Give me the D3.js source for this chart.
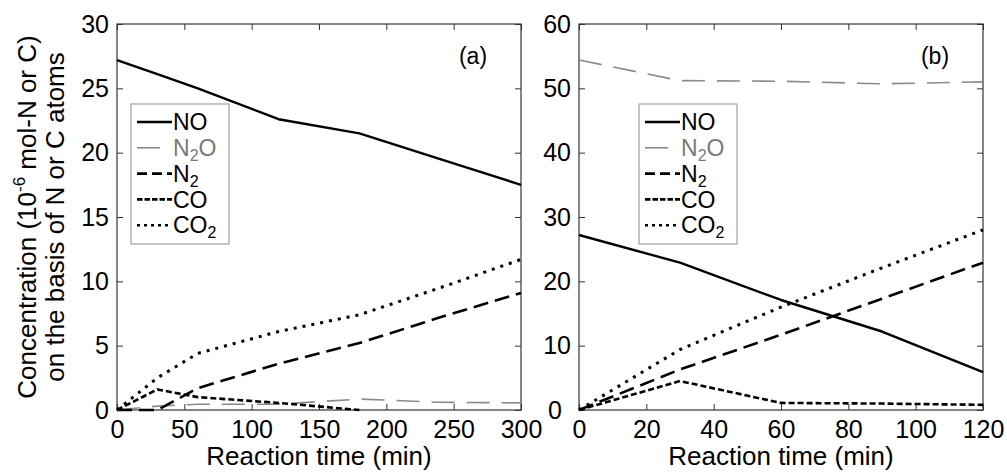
<!DOCTYPE html>
<html>
<head>
<meta charset="utf-8">
<script src="https://cdn.jsdelivr.net/npm/d3@7"></script>
<style>
  body { margin: 0; background: #fff; }
  svg { display: block; font-family: "Liberation Sans", Arial, Helvetica, sans-serif; }
</style>
</head>
<body>
<svg id="chart" width="1007" height="475"></svg>
<script>
// panel (a)
const timeA = [0, 30, 60, 120, 180, 240, 300];
const noA   = [27.2, 26.1, 25.0, 22.6, 21.5, 19.5, 17.5];
const n2oA  = [0, 0.3, 0.45, 0.45, 0.85, 0.6, 0.55];
const n2A   = [0, 0, 1.7, 3.6, 5.2, 7.2, 9.1];
const coA   = [0, 1.6, 1.0, 0.55, 0, null, null];
const co2A  = [0, 2.5, 4.4, 6.1, 7.4, 9.5, 11.7];

// panel (b)
const timeB = [0, 30, 60, 90, 120];
const noB   = [27.2, 22.9, 17.1, 12.2, 5.9];
const n2oB  = [54.4, 51.2, 51.1, 50.7, 51.0];
const n2B   = [0, 6.3, 11.7, 17.3, 22.9];
const coB   = [0, 4.5, 1.1, 1.0, 0.8];
const co2B  = [0, 9.4, 16.0, 22.1, 28.0];

const ticksXA = [0, 50, 100, 150, 200, 250, 300];
const ticksYA = [0, 5, 10, 15, 20, 25, 30];
const ticksXB = [0, 20, 40, 60, 80, 100, 120];
const ticksYB = [0, 10, 20, 30, 40, 50, 60];

const seriesNames = ['NO', 'N2O', 'N2', 'CO', 'CO2'];

// line styles per series (plot dash, legend dash)
const styles = {
  NO:  { color: '#000', width: 2.4, dash: null,    legDash: null },
  N2O: { color: '#8a8a8a', width: 1.6, dash: '23,12', legDash: '23,12' },
  N2:  { color: '#000', width: 2.6, dash: '15,7',  legDash: '10,5' },
  CO:  { color: '#000', width: 2.6, dash: '6,3',   legDash: '5.5,2' },
  CO2: { color: '#000', width: 3,   dash: '3,6',   legDash: '3,4' }
};

const svg = d3.select('#chart');
const plotTop = 24, plotBottom = 410;

function panel(opts){
  var x = d3.scaleLinear().domain(opts.xDomain).range([opts.left, opts.right]);
  var y = d3.scaleLinear().domain(opts.yDomain).range([plotBottom, plotTop]);
  var g = svg.append('g').attr('class', 'panel');

  // axes with inward ticks
  g.append('g').attr('transform', 'translate(0,' + plotBottom + ')')
    .call(d3.axisBottom(x).tickValues(opts.xTicks).tickSizeInner(-6).tickSizeOuter(0).tickPadding(10));
  var ay = g.append('g').attr('transform', 'translate(' + opts.left + ',0)')
    .call(d3.axisLeft(y).tickValues(opts.yTicks).tickSizeInner(-6).tickSizeOuter(0).tickPadding(8));
  g.append('g').attr('transform', 'translate(0,' + plotTop + ')')
    .call(d3.axisTop(x).tickValues(opts.xTicks).tickSizeInner(-6).tickSizeOuter(0).tickFormat(''));
  g.append('g').attr('transform', 'translate(' + opts.right + ',0)')
    .call(d3.axisRight(y).tickValues(opts.yTicks).tickSizeInner(-6).tickSizeOuter(0).tickFormat(''));

  g.selectAll('.domain').remove();
  g.selectAll('.tick line').attr('stroke', '#333').attr('stroke-width', 1);
  g.selectAll('.tick text')
    .attr('fill', '#000')
    .style('font-size', '25px')
    .style('font-family', '"Liberation Sans", Arial, Helvetica, sans-serif');
  if (opts.shiftZero) {
    ay.selectAll('.tick').filter(d => d === 0).select('text').attr('x', -8 - opts.shiftZero);
  }

  g.append('rect')
    .attr('x', opts.left).attr('y', plotTop)
    .attr('width', opts.right - opts.left).attr('height', plotBottom - plotTop)
    .attr('fill', 'none').attr('stroke', '#333').attr('stroke-width', 1.2);

  // lines
  var line = d3.line()
    .defined(d => d[1] != null)
    .x(d => x(d[0]))
    .y(d => y(d[1]));

  seriesNames.forEach(function(name){
    var vals = opts.data[name];
    var st = styles[name];
    g.append('path')
      .datum(opts.time.map((t, i) => [t, vals[i]]))
      .attr('d', line)
      .attr('fill', 'none')
      .attr('stroke', st.color)
      .attr('stroke-width', st.width)
      .attr('stroke-dasharray', st.dash)
      .attr('stroke-linejoin', 'round');
  });

  // panel letter
  g.append('text')
    .attr('x', opts.right - 48).attr('y', 56)
    .attr('text-anchor', 'middle').attr('dy', '0.35em')
    .style('font-size', '23px')
    .text(opts.letter);

  // legend
  var lx = opts.left + opts.legendOffset, ly = 104;
  var leg = g.append('g').attr('transform', 'translate(' + lx + ',' + ly + ')');
  leg.append('rect')
    .attr('width', 98).attr('height', 140)
    .attr('fill', '#fff').attr('stroke', '#8c8c8c').attr('stroke-width', 1);

  seriesNames.forEach(function(name, i){
    var st = styles[name];
    var yy = 18 + i * 25.8;
    leg.append('line')
      .attr('x1', 6).attr('x2', 41).attr('y1', yy).attr('y2', yy)
      .attr('stroke', st.color)
      .attr('stroke-width', name === 'N2O' ? 1.6 : 2.6)
      .attr('stroke-dasharray', st.legDash);
    var t = leg.append('text')
      .attr('x', 42).attr('y', yy).attr('dy', '0.36em')
      .style('font-size', '23px')
      .attr('fill', name === 'N2O' ? '#7a7a7a' : '#000');
    if (name === 'NO' || name === 'CO') {
      t.text(name);
    } else {
      t.append('tspan').text(name === 'CO2' ? 'CO' : 'N');
      t.append('tspan').attr('dy', 5).style('font-size', '16px').text('2');
      if (name === 'N2O') t.append('tspan').attr('dy', -5).text('O');
    }
  });

  // x title
  g.append('text')
    .attr('x', (opts.left + opts.right) / 2).attr('y', 465)
    .attr('text-anchor', 'middle')
    .style('font-size', '26px')
    .text('Reaction time (min)');

  return g;
}

panel({
  left: 117, right: 521, letter: '(a)', legendOffset: 14,
  xDomain: [0, 300], yDomain: [0, 30],
  xTicks: ticksXA, yTicks: ticksYA,
  time: timeA,
  data: { NO: noA, N2O: n2oA, N2: n2A, CO: coA, CO2: co2A }
});

panel({
  left: 579, right: 983, letter: '(b)', legendOffset: 60, shiftZero: 9,
  xDomain: [0, 120], yDomain: [0, 60],
  xTicks: ticksXB, yTicks: ticksYB,
  time: timeB,
  data: { NO: noB, N2O: n2oB, N2: n2B, CO: coB, CO2: co2B }
});

// y axis title (two lines, rotated)
var yt = svg.append('g').attr('transform', 'translate(0,217) rotate(-90)');
var l1 = yt.append('text')
  .attr('x', 0).attr('y', 36)
  .attr('text-anchor', 'middle')
  .style('font-size', '26px');
l1.append('tspan').text('Concentration (10');
l1.append('tspan').attr('dy', -11).style('font-size', '17px').text('-6');
l1.append('tspan').attr('dy', 11).text(' mol-N or C)');
yt.append('text')
  .attr('x', 0).attr('y', 64)
  .attr('text-anchor', 'middle')
  .style('font-size', '26px')
  .text('on the basis of N or C atoms');
</script>
</body>
</html>
